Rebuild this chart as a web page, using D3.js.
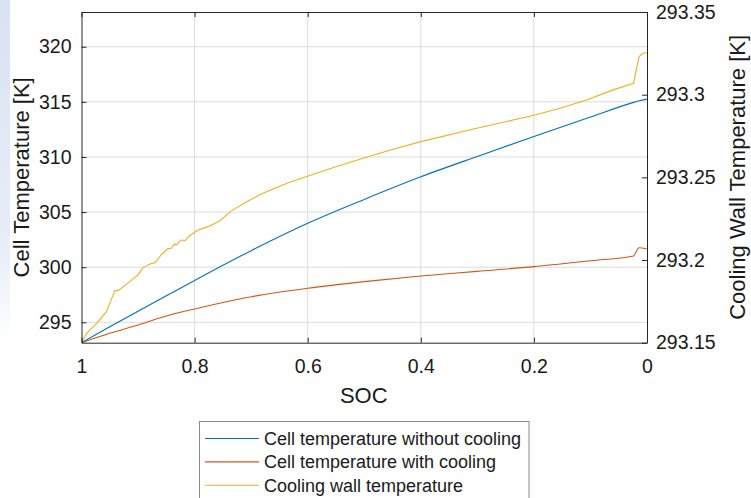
<!DOCTYPE html>
<html>
<head>
<meta charset="utf-8">
<script src="https://cdn.jsdelivr.net/npm/d3@7"></script>
<style>
    html, body { margin: 0; padding: 0; background: #fff; }
    svg { display: block; font-family: "Liberation Sans", Arial, sans-serif; }
</style>
</head>
<body>
<svg id="chart" width="751" height="498"></svg>
<script>
// SOC grid shared by the two cell temperature series (x axis runs 1 -> 0)
const socGrid = [1, 0.95, 0.9, 0.85, 0.8, 0.7, 0.6, 0.5, 0.4, 0.3, 0.2, 0.1, 0.024, 0.014, 0];

// Cell temperature without cooling [K] (left axis)
const tempNoCooling = [293.15, 294.6, 296.0, 297.4, 298.8, 301.5, 303.98, 306.15, 308.2, 310.05,
    311.85, 313.62, 314.95, 315.1, 315.25];

// Cell temperature with cooling [K] (left axis)
const tempWithCooling = [293.15, 294.0, 294.76, 295.57, 296.21, 297.32, 298.09, 298.69, 299.2,
    299.62, 300.05, 300.59, 301.02, 301.77, 301.65];

// Cooling wall temperature [K] (right axis), read on its own SOC points
const wallSoc = [1, 0.991, 0.973, 0.956, 0.950, 0.941, 0.935, 0.917, 0.900, 0.891, 0.879, 0.870,
    0.858, 0.847, 0.841, 0.836, 0.832, 0.829, 0.823, 0.817, 0.811, 0.794, 0.776, 0.755, 0.737,
    0.708, 0.679, 0.637, 0.599, 0.549, 0.502, 0.449, 0.400, 0.301, 0.198, 0.154, 0.107, 0.060,
    0.024, 0.014, 0.007, 0];
const wallTemp = [293.15, 293.1557, 293.1617, 293.1688, 293.1738, 293.1815, 293.1815, 293.1863,
    293.1910, 293.1954, 293.1976, 293.1984, 293.2035, 293.2069, 293.2071, 293.2097, 293.2091,
    293.2105, 293.2121, 293.2117, 293.2141, 293.2182, 293.2202, 293.2238, 293.2293, 293.2353,
    293.2404, 293.2464, 293.2508, 293.2565, 293.2616, 293.2670, 293.2716, 293.2797, 293.2877,
    293.2918, 293.2968, 293.3029, 293.3069, 293.3230, 293.3251, 293.3254];

const socTicks = [1, 0.8, 0.6, 0.4, 0.2, 0];
const leftTicks = [295, 300, 305, 310, 315, 320];
const rightTicks = [293.15, 293.2, 293.25, 293.3, 293.35];

const seriesNames = ['Cell temperature without cooling', 'Cell temperature with cooling',
    'Cooling wall temperature'];
const colours = ['#0072BD', '#D95319', '#EDB120'];

// plot box (MATLAB style)
const plot = { left: 81.5, right: 647, top: 12, bottom: 342.7 };
const axisColour = '#262626';

const svg = d3.select('#chart');

// faint blue strip on the left edge of the figure
const defs = svg.append('defs');
const grad = defs.append('linearGradient')
    .attr('id', 'strip')
    .attr('x1', 0).attr('y1', 0).attr('x2', 0).attr('y2', 1);
grad.append('stop').attr('offset', '0%').attr('stop-color', '#d9e2f3');
grad.append('stop').attr('offset', '75%').attr('stop-color', '#e9eef8');
grad.append('stop').attr('offset', '100%').attr('stop-color', '#ffffff');
svg.append('rect')
    .attr('x', 0).attr('y', 0)
    .attr('width', 10).attr('height', 340)
    .attr('fill', 'url(#strip)');

defs.append('clipPath').attr('id', 'plotClip')
    .append('rect')
    .attr('x', plot.left).attr('y', plot.top)
    .attr('width', plot.right - plot.left)
    .attr('height', plot.bottom - plot.top);

const x = d3.scaleLinear().domain([1, 0]).range([plot.left, plot.right]);
const yLeft = d3.scaleLinear().domain([293.15, 323.15]).range([plot.bottom, plot.top]);
const yRight = d3.scaleLinear().domain([293.15, 293.35]).range([plot.bottom, plot.top]);

// grid
const grid = svg.append('g').attr('stroke', '#dcdcdc').attr('stroke-width', 1);
grid.selectAll('.vgrid')
    .data(socTicks.filter((d) => d > 0 && d < 1))
    .enter().append('line')
    .attr('x1', (d) => x(d)).attr('x2', (d) => x(d))
    .attr('y1', plot.top).attr('y2', plot.bottom);
grid.selectAll('.hgrid')
    .data(leftTicks)
    .enter().append('line')
    .attr('x1', plot.left).attr('x2', plot.right)
    .attr('y1', (d) => yLeft(d)).attr('y2', (d) => yLeft(d));

// lines
const lines = svg.append('g').attr('clip-path', 'url(#plotClip)').attr('fill', 'none')
    .attr('stroke-width', 1.1);

const leftLine = d3.line().x((d) => x(d[0])).y((d) => yLeft(d[1])).curve(d3.curveMonotoneX);
const rightLine = d3.line().x((d) => x(d[0])).y((d) => yRight(d[1]));

lines.append('path')
    .datum(d3.zip(wallSoc, wallTemp))
    .attr('stroke', colours[2])
    .attr('d', rightLine);
lines.append('path')
    .datum(d3.zip(socGrid, tempWithCooling))
    .attr('stroke', colours[1])
    .attr('d', leftLine);
lines.append('path')
    .datum(d3.zip(socGrid, tempNoCooling))
    .attr('stroke', colours[0])
    .attr('d', leftLine);

// axes
function styleAxis(g) {
    g.selectAll('.domain').attr('stroke', axisColour);
    g.selectAll('.tick line').attr('stroke', axisColour);
    g.selectAll('.tick text')
        .attr('fill', '#1a1a1a')
        .style('font-size', '19.5px');
}

svg.append('g')
    .attr('transform', `translate(0,${plot.bottom})`)
    .call(d3.axisBottom(x).tickValues(socTicks).tickFormat((d) => String(d))
        .tickSize(-5).tickSizeOuter(0).tickPadding(16))
    .call(styleAxis);

svg.append('g')
    .attr('transform', `translate(0,${plot.top})`)
    .call(d3.axisTop(x).tickValues(socTicks).tickFormat('')
        .tickSize(-5).tickSizeOuter(0))
    .call(styleAxis);

svg.append('g')
    .attr('transform', `translate(${plot.left},0)`)
    .call(d3.axisLeft(yLeft).tickValues(leftTicks)
        .tickSize(-5).tickSizeOuter(0).tickPadding(10))
    .call(styleAxis);

svg.append('g')
    .attr('transform', `translate(${plot.right},0)`)
    .call(d3.axisRight(yRight).tickValues(rightTicks).tickFormat((d) => String(+d.toFixed(2)))
        .tickSize(-5).tickSizeOuter(0).tickPadding(9))
    .call(styleAxis);

// axis titles
const midY = (plot.top + plot.bottom) / 2;
svg.append('text')
    .attr('x', (plot.left + plot.right) / 2 - 0.5)
    .attr('y', 403)
    .attr('text-anchor', 'middle')
    .attr('fill', '#1a1a1a')
    .style('font-size', '22px')
    .text('SOC');

svg.append('text')
    .attr('transform', `translate(28.5,${midY}) rotate(-90)`)
    .attr('text-anchor', 'middle')
    .attr('fill', '#1a1a1a')
    .style('font-size', '22px')
    .text('Cell Temperature [K]');

svg.append('text')
    .attr('transform', `translate(745,${midY}) rotate(-90)`)
    .attr('text-anchor', 'middle')
    .attr('fill', '#1a1a1a')
    .style('font-size', '22px')
    .text('Cooling Wall Temperature [K]');

// legend
const legend = svg.append('g').attr('transform', 'translate(199.5,421.5)');
legend.append('rect')
    .attr('width', 329.5).attr('height', 90)
    .attr('fill', '#fff')
    .attr('stroke', '#8a8a8a')
    .attr('stroke-width', 1);

const items = legend.selectAll('.item')
    .data(seriesNames)
    .enter().append('g')
    .attr('transform', (d, i) => `translate(0,${17 + i * 23.4})`);
items.append('line')
    .attr('x1', 5.5).attr('x2', 59.5)
    .attr('stroke', (d, i) => colours[i])
    .attr('stroke-width', 1.1);
items.append('text')
    .attr('x', 64.5)
    .attr('dy', '0.35em')
    .attr('fill', '#1a1a1a')
    .style('font-size', '18px')
    .text((d) => d);
</script>
</body>
</html>
